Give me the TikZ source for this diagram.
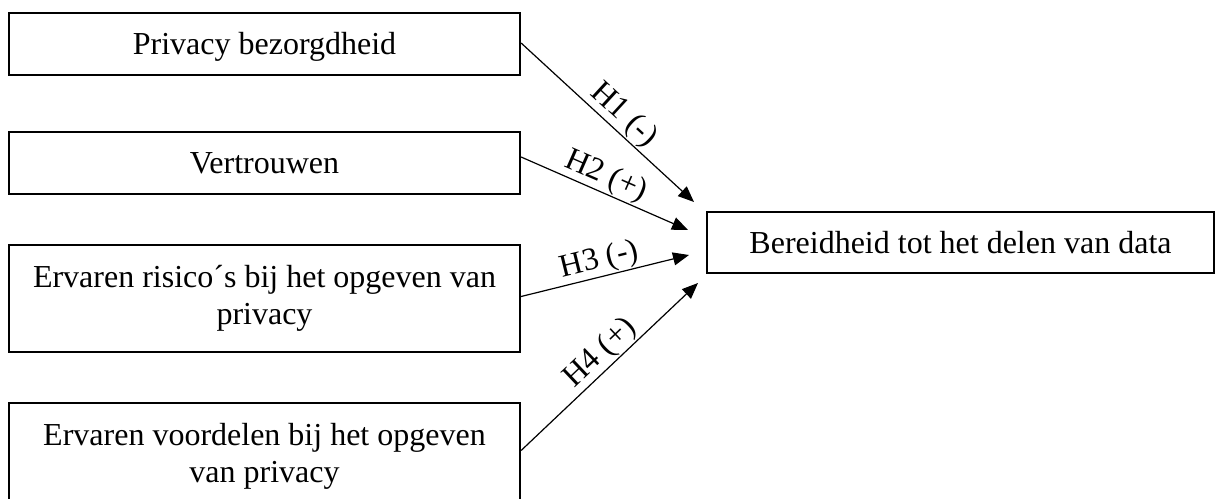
\documentclass[tikz,border=0pt]{standalone}
\usepackage{fontspec}
\setmainfont{Liberation Serif}
\usetikzlibrary{arrows.meta}
\begin{document}
\begin{tikzpicture}[x=0.5pt,y=-0.5pt,
  font=\fontsize{16}{18.5}\selectfont,
  box/.style={draw, line width=1.1pt, align=center, inner sep=0pt},
  onebox/.style={box, text height=14.4pt, text depth=3.5pt},
  link/.style={line width=0.6pt, -{Triangle[length=8pt,width=6.5pt]}},
  hyp/.style={sloped, above, inner sep=0.5pt}]
\useasboundingbox (0,0) rectangle (1215,498);
\node[onebox, minimum width=255.5pt, minimum height=31pt] (b1) at (264.5,44) {Privacy bezorgdheid};
\node[onebox, minimum width=255.5pt, minimum height=31pt] (b2) at (264.5,163) {Vertrouwen};
\node[box, minimum width=255.5pt, minimum height=53.5pt] (b3) at (264.5,298.5) {Ervaren risico´s bij het opgeven van\\privacy};
\node[box, minimum width=255.5pt, minimum height=53.5pt] (b4) at (264.5,456.5) {Ervaren voordelen bij het opgeven\\van privacy};
\node[onebox, minimum width=253.5pt, minimum height=30.5pt] (t) at (960.5,242.5) {Bereidheid tot het delen van data};
\coordinate (e1) at (694,202);
\coordinate (e2) at (688,230);
\coordinate (e3) at (689,255);
\coordinate (e4) at (698,283);
\draw[link] ([yshift=0.5pt]b1.east) -- node[hyp, pos=0.53] {H1 (-)} (e1);
\draw[link] ([yshift=3pt]b2.east) -- node[hyp, pos=0.47] {H2 (+)} (e2);
\draw[link] ([yshift=1pt]b3.east) -- node[hyp, pos=0.49] {H3 (-)} (e3);
\draw[link] ([yshift=3pt]b4.east) -- node[hyp, pos=0.51] {H4 (+)} (e4);
\end{tikzpicture}
\end{document}
